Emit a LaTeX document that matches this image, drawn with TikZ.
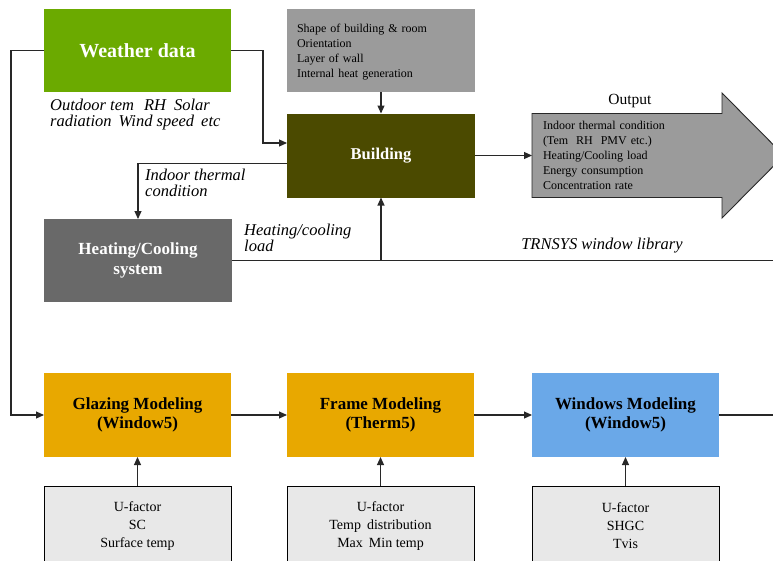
\documentclass[tikz,border=0pt]{standalone}
\usepackage{fontspec}
\setmainfont{Liberation Serif}
\usetikzlibrary{arrows.meta,calc}
\definecolor{wgreen}{RGB}{107,170,0}
\definecolor{olive}{RGB}{75,74,0}
\definecolor{hcgray}{RGB}{105,105,105}
\definecolor{midgray}{RGB}{155,155,155}
\definecolor{orng}{RGB}{232,168,0}
\definecolor{skyb}{RGB}{106,168,232}
\definecolor{lgray}{RGB}{232,232,232}
\definecolor{ink}{RGB}{40,40,40}
\begin{document}
\begin{tikzpicture}[x=1pt,y=-1pt,
  box/.style={inner sep=0pt, outer sep=0pt, minimum width=187pt, minimum height=83pt, align=center,
    font=\bfseries\fontsize{17}{20}\selectfont},
  listbox/.style={inner xsep=10pt, inner ysep=0pt, outer sep=0pt, align=left,
    font=\fontsize{12}{15}\selectfont},
  botbox/.style={box, draw=black, line width=0.9pt, fill=lgray, minimum height=80pt,
    font=\fontsize{14}{18}\selectfont},
  lab/.style={inner sep=0pt, align=left, font=\itshape\fontsize{16.5}{16}\selectfont},
  conn/.style={draw=ink, line width=1.1pt},
  arr/.style={conn, -{Triangle[length=8pt,width=7pt]}}]
\useasboundingbox (0,0) rectangle (773,560);
\clip (0,0) rectangle (773,560);
\fill[white] (0,0) rectangle (773,560);

% top row
\node[box, fill=wgreen, text=white, font=\bfseries\fontsize{20}{24}\selectfont] (weather) at (137.5,50.5) {Weather data};
\node[box, fill=midgray, minimum width=188pt] (props) at (381,50.5) {};
\node[listbox, anchor=west, text width=168pt] (propstext) at ([yshift=-2pt]props.west)
  {Shape of building \& room\\Orientation\\Layer of wall\\Internal heat generation};
\node[box, fill=olive, text=white, minimum width=188pt, minimum height=84pt, font=\bfseries\fontsize{16.5}{20}\selectfont] (building) at (381,155.5) {Building};
\node[box, fill=hcgray, text=white, minimum width=188pt] (hc) at (138,260.5) {Heating/Cooling\\system};

% output arrow
\draw[fill=midgray, draw=ink, line width=0.9pt] (532,113.5) -- (722,113.5) -- (722,93) -- (784,155.5)
  -- (722,218) -- (722,197.5) -- (532,197.5) -- cycle;
\node[listbox, inner xsep=11pt, minimum width=190pt, minimum height=84pt, text width=168pt] (outbody) at (627,155.5)
  {Indoor thermal condition\\(Tem\hspace{8pt}RH\hspace{8pt}PMV etc.)\\Heating/Cooling load\\Energy consumption\\Concentration rate};
\node[inner sep=0pt, font=\fontsize{15.5}{15}\selectfont] (outlab) at (630,101) {Output};

% bottom row
\node[box, fill=orng, minimum height=84pt, font=\bfseries\fontsize{17}{18.5}\selectfont] (glazing) at (137.5,415) {Glazing Modeling\\(Window5)};
\node[box, fill=orng, minimum height=84pt, font=\bfseries\fontsize{17}{18.5}\selectfont] (frame) at (380.5,415) {Frame Modeling\\(Therm5)};
\node[box, fill=skyb, minimum height=84pt, font=\bfseries\fontsize{17}{18.5}\selectfont] (windows) at (625.5,415) {Windows Modeling\\(Window5)};

\node[botbox] (gbot) at (137.5,526) {U-factor\\SC\\Surface temp};
\node[botbox] (fbot) at (380.5,526) {U-factor\\Temp\hspace{6pt}distribution\\Max\hspace{6pt}Min temp};
\node[botbox] (wbot) at (625.5,526) {U-factor\\SHGC\\Tvis};

% labels
\node[lab, anchor=west] (outdoorlab) at (50,115) {Outdoor tem\hspace{10pt}RH\hspace{8pt}Solar\\radiation\hspace{7pt}Wind speed\hspace{7pt}etc};
\node[lab, anchor=west] (indoorlab) at (145,182.5) {Indoor thermal\\condition};
\node[lab, anchor=west] (loadlab) at (244,238) {Heating/cooling\\load};
\node[lab, anchor=center] (trnlab) at (602,246) {TRNSYS window library};

\coordinate (redge1) at (775,260.5);
\coordinate (redge2) at (775,415);

% connectors
\draw[arr] (props.south) -- (building.north);
\draw[arr] (weather.east) -- ++(32,0) |- ([yshift=12.5pt]building.west);
\draw[arr] ([yshift=-8pt]building.west) -| (hc.north);
\draw[conn] (hc.east) -- (redge1);
\draw[arr] (building.south |- hc.east) -- (building.south);
\draw[arr] (building.east) -- (outbody.west);
\draw[arr] (weather.west) -- ++(-33,0) |- (glazing.west);
\draw[arr] (glazing.east) -- (frame.west);
\draw[arr] (frame.east) -- (windows.west);
\draw[conn] (windows.east) -- (redge2);
\draw[arr] (gbot.north) -- (glazing.south);
\draw[arr] (fbot.north) -- (frame.south);
\draw[arr] (wbot.north) -- (windows.south);
\end{tikzpicture}
\end{document}
